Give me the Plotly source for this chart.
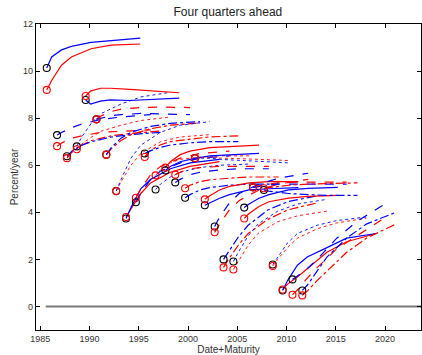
import plotly.graph_objects as go

# ---- data ----
forecast_dates = [1985.65, 1986.7, 1987.7, 1988.7, 1989.6, 1990.7, 1991.7, 1992.7, 1993.7,
                  1994.7, 1995.6, 1996.7, 1997.7, 1998.7, 1999.7, 2000.7, 2001.7, 2002.7,
                  2003.6, 2004.6, 2005.7, 2006.6, 2007.7, 2008.6, 2009.6, 2010.6, 2011.6]
maturities = [0, 0.5, 1.5, 2.5, 4.5, 6.5, 9.5]

blue_yields = [
    [10.13, 10.6, 10.9, 11.05, 11.22, 11.28, 11.4],
    [7.28, 7.4, 7.6, 7.75, 7.95, 8.05, 8.15],
    [6.38, 6.6, 6.85, 7.0, 7.2, 7.3, 7.4],
    [6.8, 7.2, 7.8, 8.2, 8.6, 8.9, 9.1],
    [8.77, 8.6, 8.72, 8.78, 8.75, 8.78, 8.85],
    [7.95, 8.0, 8.1, 8.15, 8.2, 8.18, 8.15],
    [6.45, 6.75, 7.15, 7.4, 7.65, 7.78, 7.85],
    [4.9, 5.4, 6.3, 6.85, 7.4, 7.7, 7.85],
    [3.74, 4.2, 5.0, 5.4, 5.85, 6.1, 6.25],
    [4.43, 4.8, 5.4, 5.75, 6.1, 6.3, 6.4],
    [6.5, 6.6, 6.75, 6.85, 6.95, 7.0, 7.0],
    [4.97, 5.2, 5.5, 5.7, 5.9, 6.0, 6.05],
    [5.78, 5.95, 6.15, 6.25, 6.4, 6.45, 6.5],
    [5.27, 5.4, 5.6, 5.7, 5.8, 5.85, 5.85],
    [4.62, 4.75, 4.95, 5.05, 5.15, 5.2, 5.2],
    [6.3, 6.3, 6.3, 6.25, 6.2, 6.15, 6.1],
    [4.3, 4.4, 4.6, 4.75, 4.95, 5.0, 5.05],
    [3.4, 3.8, 4.4, 4.8, 5.2, 5.45, 5.66],
    [2.0, 2.3, 2.95, 3.45, 4.1, 4.45, 4.7],
    [1.91, 2.3, 3.0, 3.5, 4.05, 4.35, 4.55],
    [4.2, 4.35, 4.6, 4.75, 4.95, 5.02, 5.06],
    [5.06, 5.1, 5.15, 5.2, 5.2, 5.2, 5.2],
    [4.95, 4.9, 4.85, 4.8, 4.75, 4.72, 4.72],
    [1.78, 2.1, 2.7, 3.1, 3.45, 3.65, 3.8],
    [0.68, 1.1, 1.75, 2.1, 2.5, 2.9, 3.1],
    [1.15, 1.3, 1.6, 2.0, 2.9, 3.6, 4.38],
    [0.68, 0.9, 1.5, 2.1, 2.9, 3.5, 4.0],
]

red_yields = [
    [9.2, 9.6, 10.25, 10.6, 10.95, 11.1, 11.15],
    [6.81, 6.95, 7.15, 7.25, 7.4, 7.45, 7.5],
    [6.3, 6.55, 6.85, 7.05, 7.25, 7.35, 7.45],
    [6.68, 6.9, 7.2, 7.45, 7.7, 7.9, 8.05],
    [8.94, 9.15, 9.27, 9.27, 9.22, 9.17, 9.08],
    [7.95, 8.1, 8.28, 8.38, 8.45, 8.47, 8.45],
    [6.45, 6.7, 7.05, 7.3, 7.55, 7.7, 7.8],
    [4.9, 5.3, 6.0, 6.5, 7.0, 7.2, 7.3],
    [3.8, 4.15, 4.8, 5.25, 5.7, 5.95, 6.15],
    [4.62, 5.0, 5.6, 5.95, 6.3, 6.5, 6.6],
    [6.35, 6.6, 6.85, 7.0, 7.1, 7.2, 7.25],
    [5.57, 5.8, 6.1, 6.25, 6.35, 6.4, 6.4],
    [5.9, 6.15, 6.45, 6.6, 6.75, 6.8, 6.85],
    [5.6, 5.7, 5.85, 5.9, 5.95, 5.95, 5.95],
    [5.02, 5.15, 5.3, 5.38, 5.45, 5.5, 5.5],
    [6.3, 6.32, 6.32, 6.3, 6.28, 6.25, 6.2],
    [4.55, 4.7, 4.95, 5.1, 5.25, 5.3, 5.3],
    [3.15, 3.5, 4.1, 4.5, 4.95, 5.2, 5.4],
    [1.66, 2.0, 2.6, 3.1, 3.7, 4.1, 4.4],
    [1.57, 1.9, 2.6, 3.1, 3.6, 3.85, 4.05],
    [3.74, 3.95, 4.25, 4.45, 4.6, 4.68, 4.72],
    [5.06, 5.12, 5.2, 5.25, 5.28, 5.28, 5.28],
    [5.02, 5.05, 5.1, 5.15, 5.2, 5.22, 5.25],
    [1.72, 2.0, 2.5, 2.9, 3.3, 3.55, 3.75],
    [0.72, 0.95, 1.25, 1.6, 2.3, 2.75, 3.1],
    [0.5, 0.7, 1.2, 1.65, 2.45, 3.0, 3.8],
    [0.47, 0.65, 1.1, 1.5, 2.3, 2.9, 3.5],
]

zero_line_x = [1985.55, 2024.5]
zero_line_y = [0, 0]

x_ticks = [1985, 1990, 1995, 2000, 2005, 2010, 2015, 2020]
y_ticks = [0, 2, 4, 6, 8, 10, 12]

# ---- figure ----
dash_cycle = ["solid", "dash", "dashdot", "dot"]
fig = go.Figure()

fig.add_trace(go.Scatter(x=zero_line_x, y=zero_line_y, mode="lines",
                         line=dict(color="#7a7a7a", width=2), hoverinfo="skip"))

for i, d in enumerate(forecast_dates):
    xs = [d + m for m in maturities]
    dash = dash_cycle[i % 4]
    w = 0.9 if dash == "dot" else 1.2
    fig.add_trace(go.Scatter(x=xs, y=red_yields[i], mode="lines",
                             line=dict(color="#ff0000", width=w, dash=dash)))
    fig.add_trace(go.Scatter(x=xs, y=blue_yields[i], mode="lines",
                             line=dict(color="#0000ff", width=w, dash=dash)))
    fig.add_trace(go.Scatter(x=[d], y=[blue_yields[i][0]], mode="markers",
                             marker=dict(symbol="circle-open", size=7,
                                         color="black", line=dict(width=1.1, color="black"))))
    fig.add_trace(go.Scatter(x=[d], y=[red_yields[i][0]], mode="markers",
                             marker=dict(symbol="circle-open", size=7,
                                         color="#ff0000", line=dict(width=1.1, color="#ff0000"))))

axis_common = dict(showline=True, linecolor="black", linewidth=1.2, mirror="ticks",
                   ticks="inside", ticklen=4, tickcolor="black", showgrid=False,
                   zeroline=False, automargin=False,
                   tickfont=dict(family="Liberation Sans, Arial", size=9, color="#333"))

fig.update_layout(
    width=422, height=355,
    margin=dict(l=36, r=1, t=24, b=25, autoexpand=False),
    paper_bgcolor="white", plot_bgcolor="white",
    showlegend=False,
    title=dict(text="Four quarters ahead", x=0.54, xanchor="center",
               yref="container", y=0.967, yanchor="middle",
               font=dict(family="Liberation Sans, Arial", size=12, color="#222")),
    xaxis=dict(range=[1984.56, 2023.65], tickvals=x_ticks,
               title=dict(text="Date+Maturity", standoff=0,
                          font=dict(family="Liberation Sans, Arial", size=10, color="#333")),
               **axis_common),
    yaxis=dict(range=[-1, 12], tickvals=y_ticks,
               title=dict(text="Percent/year", standoff=2,
                          font=dict(family="Liberation Sans, Arial", size=10, color="#333")),
               **axis_common),
)

fig.write_html("out.html", config={"displayModeBar": False},
               post_script="document.body.style.margin='0';document.body.style.overflow='hidden';")
